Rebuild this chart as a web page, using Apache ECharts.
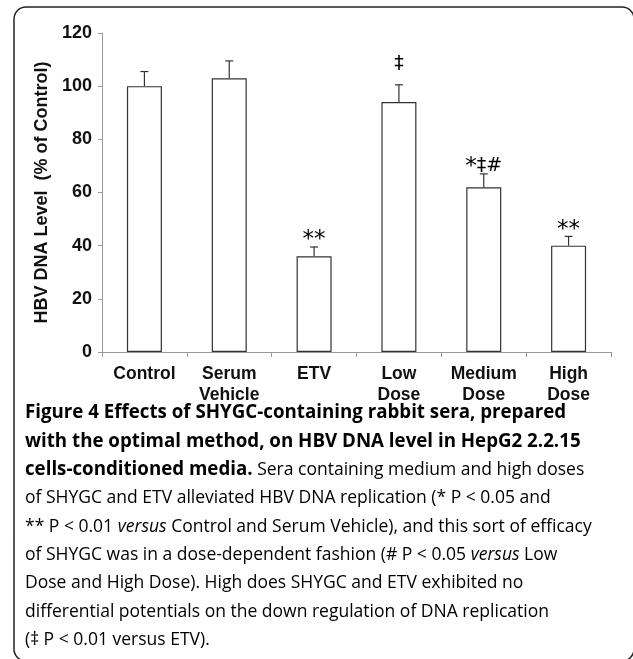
<!DOCTYPE html>
<html><head><meta charset="utf-8">
<script src="https://cdn.jsdelivr.net/npm/echarts@6/dist/echarts.min.js"></script>
<style>html,body{margin:0;padding:0;background:#fff}#c{width:633px;height:659px}</style>
</head><body><div id="c"></div>
<script>
const categories = ['Control', 'Serum\nVehicle', 'ETV', 'Low\nDose', 'Medium\nDose', 'High\nDose'];
const meanValues = [100, 103, 36, 94, 62, 40];
const errorValues = [5.5, 6.5, 3.5, 6.5, 5, 3.5];
const significance = ['', '', '**', '‡', '*‡#', '**'];
const yMin = 0, yMax = 120, yInterval = 20;
const yAxisTitle = 'HBV DNA Level  (% of Control)';
const captionLines = [
  [['b', 'Figure 4 Effects of SHYGC-containing rabbit sera, prepared']],
  [['b', 'with the optimal method, on HBV DNA level in HepG2 2.2.15']],
  [['b', 'cells-conditioned media.'], ['r', ' Sera containing medium and high doses']],
  [['r', 'of SHYGC and ETV alleviated HBV DNA replication (* P < 0.05 and']],
  [['r', '** P < 0.01 '], ['i', 'versus'], ['r', ' Control and Serum Vehicle), and this sort of efficacy']],
  [['r', 'of SHYGC was in a dose-dependent fashion (# P < 0.05 '], ['i', 'versus'], ['r', ' Low']],
  [['r', 'Dose and High Dose). High does SHYGC and ETV exhibited no']],
  [['r', 'differential potentials on the down regulation of DNA replication']],
  [['r', '(‡ P < 0.01 versus ETV).']]
];

const chart = echarts.init(document.getElementById('c'), null, {renderer: 'canvas'});
const capFont = '"Open Sans", sans-serif';
const rich = {
  b: {fontFamily: capFont, fontWeight: 'bold', fontSize: 19, color: '#231f20'},
  r: {fontFamily: capFont, fontWeight: 'normal', fontSize: 17.8, color: '#3a3a3a'},
  i: {fontFamily: capFont, fontWeight: 'normal', fontStyle: 'italic', fontSize: 17.8, color: '#3a3a3a'}
};
const captionGraphics = captionLines.map((segs, k) => ({
  type: 'text',
  x: 25, y: 413 + k * 28.4,
  scaleX: 0.985,
  silent: true,
  style: {
    text: segs.map(([st, t]) => '{' + st + '|' + t + '}').join(''),
    rich: rich,
    verticalAlign: 'middle'
  }
}));

const markRich = {
  a: {fontFamily: '"DejaVu Sans", sans-serif', fontSize: 23, color: '#555'},
  o: {fontFamily: '"DejaVu Sans", sans-serif', fontSize: 19, color: '#555', padding: [0, 0, 3, 0]}
};
const markText = s => s.split('').map(c => (c === '*' ? '{a|*}' : '{o|' + c + '}')).join('');

const labelFont = '"Liberation Sans", Arial, sans-serif';
chart.setOption({
  animation: false,
  grid: {left: 102, right: 22, top: 33, bottom: 307},
  xAxis: {
    type: 'category',
    data: categories,
    axisLine: {lineStyle: {color: '#999', width: 1}},
    axisTick: {show: true, length: 5, lineStyle: {color: '#999'}},
    axisLabel: {interval: 0, color: '#111', fontFamily: labelFont, fontWeight: 'bold', fontSize: 17.5, lineHeight: 21, margin: 12}
  },
  yAxis: {
    type: 'value', min: yMin, max: yMax, interval: yInterval,
    axisLine: {show: true, lineStyle: {color: '#999', width: 1}},
    axisTick: {show: true, length: 4, lineStyle: {color: '#999'}},
    splitLine: {show: false},
    axisLabel: {color: '#111', fontFamily: labelFont, fontWeight: 'bold', fontSize: 18, margin: 10},
    name: yAxisTitle, nameLocation: 'middle', nameGap: 50, nameRotate: 90,
    nameTextStyle: {color: '#111', fontFamily: labelFont, fontWeight: 'bold', fontSize: 18}
  },
  series: [
    {
      type: 'bar', data: meanValues, barWidth: 35, silent: true,
      itemStyle: {color: '#fff', borderColor: '#333', borderWidth: 1.2}
    },
    {
      type: 'custom', silent: true, z: 5,
      data: meanValues.map((m, i) => [i, m, errorValues[i]]),
      renderItem: function (params, api) {
        const i = api.value(0), m = api.value(1), e = api.value(2);
        const base = api.coord([i, m]);
        const top = api.coord([i, m + e]);
        const half = 4;
        const ls = {stroke: '#333', lineWidth: 1.2};
        const children = [
          {type: 'line', shape: {x1: base[0], y1: base[1], x2: top[0], y2: top[1]}, style: ls},
          {type: 'line', shape: {x1: top[0] - half, y1: top[1], x2: top[0] + half, y2: top[1]}, style: ls}
        ];
        const mark = significance[params.dataIndex];
        if (mark) {
          const lift = mark.indexOf('*') >= 0 ? -5 : 8;
          children.push({
            type: 'text', x: top[0], y: top[1] - lift,
            style: {text: markText(mark), rich: markRich, align: 'center', verticalAlign: 'bottom'}
          });
        }
        return {type: 'group', children: children};
      }
    }
  ],
  graphic: [
    {type: 'rect', silent: true, shape: {x: 14, y: 7, width: 620, height: 654, r: 12},
      style: {fill: 'none', stroke: '#222', lineWidth: 1.5}}
  ].concat(captionGraphics)
});
</script></body></html>
